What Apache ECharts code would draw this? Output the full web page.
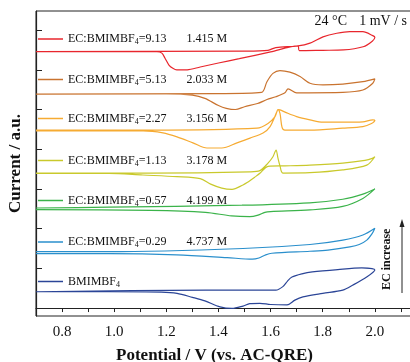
<!DOCTYPE html>
<html>
<head>
<meta charset="utf-8">
</head>
<body style="margin:0">
<div id="container" style="width:410px;height:362px"></div>
<script src="https://cdn.jsdelivr.net/npm/echarts@6/dist/echarts.min.js"></script>
<script>
// stacked cyclic voltammograms, [potential V, current a.u.] with the offsets already in
var cv913 = [[0.70,6.456],[1.50,6.47],[1.59,6.49],[1.62,6.56],[1.705,6.60],[1.751,6.67],[1.801,6.83],[1.854,6.92],[1.904,6.96],[1.954,6.96],[1.992,6.86],[2.0,6.82],
  [1.99,6.72],[1.955,6.58],[1.88,6.50],[1.80,6.49],[1.71,6.48],[1.705,6.60],[1.60,6.45],[1.48,6.28],[1.40,6.17],[1.33,6.07],[1.28,6.00],[1.24,6.00],[1.225,6.04],[1.21,6.12],[1.195,6.29],[1.183,6.42],[1.164,6.456],[0.70,6.456]];
var cv513 = [[0.70,5.385],[1.40,5.40],[1.565,5.43],[1.586,5.70],[1.609,5.91],[1.636,5.98],[1.674,5.94],[1.713,5.83],[1.751,5.66],[1.801,5.62],[1.877,5.64],[1.954,5.70],[2.0,5.77],
  [1.992,5.66],[1.954,5.49],[1.877,5.43],[1.72,5.42],[1.70,5.42],[1.667,5.52],[1.655,5.42],[1.62,5.32],[1.586,5.25],[1.55,5.15],[1.50,5.07],[1.465,5.00],[1.43,5.03],[1.40,5.10],[1.348,5.28],[1.30,5.36],[1.20,5.39],[0.70,5.39]];
var cv227 = [[0.70,4.48],[1.14,4.48],[1.548,4.53],[1.59,4.65],[1.617,4.82],[1.628,5.00],[1.636,4.90],[1.644,4.55],[1.655,4.48],[1.751,4.48],[1.877,4.53],[1.954,4.57],[1.985,4.64],[2.0,4.73],
  [1.992,4.74],[1.954,4.69],[1.877,4.68],[1.801,4.68],[1.751,4.74],[1.70,4.82],[1.66,4.92],[1.636,4.99],[1.628,5.00],[1.624,4.94],[1.598,4.57],[1.571,4.41],[1.521,4.28],[1.471,4.16],[1.413,4.03],[1.356,4.03],[1.302,4.16],[1.241,4.31],[1.187,4.41],[1.111,4.46],[0.70,4.46]];
var cv113 = [[0.70,3.40],[1.14,3.40],[1.52,3.43],[1.559,3.46],[1.59,3.65],[1.609,3.81],[1.621,3.98],[1.628,3.78],[1.636,3.58],[1.647,3.40],[1.751,3.41],[1.877,3.48],[1.969,3.60],[2.0,3.81],
  [1.99,3.77],[1.962,3.72],[1.877,3.65],[1.751,3.60],[1.655,3.58],[1.59,3.57],[1.578,3.52],[1.56,3.40],[1.54,3.30],[1.51,3.16],[1.494,3.10],[1.452,2.99],[1.413,3.02],[1.37,3.12],[1.33,3.26],[1.24,3.31],[1.11,3.35],[0.98,3.39],[0.70,3.39]];
var cv057 = [[0.70,2.52],[0.98,2.54],[1.49,2.59],[1.75,2.65],[1.877,2.74],[1.954,2.87],[2.0,3.00],
  [1.954,2.76],[1.877,2.56],[1.751,2.47],[1.60,2.43],[1.578,2.41],[1.552,2.34],[1.52,2.30],[1.45,2.32],[1.35,2.41],[1.14,2.46],[0.70,2.48]];
var cv029 = [[0.70,1.42],[0.98,1.42],[1.494,1.50],[1.751,1.60],[1.877,1.71],[1.954,1.84],[2.0,2.01],
  [1.99,1.88],[1.969,1.71],[1.94,1.60],[1.904,1.54],[1.82,1.46],[1.751,1.43],[1.605,1.38],[1.578,1.33],[1.555,1.26],[1.53,1.23],[1.433,1.27],[1.24,1.34],[0.98,1.37],[0.70,1.37]];
var cvNeat = [[0.70,0.41],[1.35,0.45],[1.62,0.45],[1.647,0.54],[1.665,0.68],[1.682,0.78],[1.72,0.86],[1.76,0.91],[1.858,0.97],[1.95,1.01],[2.0,0.96],
  [1.97,0.79],[1.916,0.58],[1.877,0.45],[1.80,0.37],[1.724,0.28],[1.693,0.20],[1.663,0.08],[1.60,0.09],[1.559,0.12],[1.52,0.11],[1.494,0.05],[1.452,-0.01],[1.406,0.03],[1.348,0.18],[1.30,0.27],[1.241,0.37],[1.18,0.40],[0.98,0.41],[0.70,0.41]];

var ratios = ['9.13', '5.13', '2.27', '1.13', '0.57', '0.29', ''];
var molarity = ['1.415 M', '2.033 M', '3.156 M', '3.178 M', '4.199 M', '4.737 M', ''];
var curves = [cv913, cv513, cv227, cv113, cv057, cv029, cvNeat];
var colors = ['#e8262d', '#c9732f', '#f6ab32', '#c9c92c', '#3bb34a', '#2a8fcc', '#2b4597'];
var xLabels = [0.8, 1.0, 1.2, 1.4, 1.6, 1.8, 2.0];
var xTicks = [0.7, 0.8, 0.9, 1.0, 1.1, 1.2, 1.3, 1.4, 1.5, 1.6, 1.7, 1.8, 1.9, 2.0, 2.1];
var yTicks = [0, 1, 2, 3, 4, 5, 6, 7];

var names = ratios.map(function (r) { return r ? 'EC:BMIMBF4=' + r : 'BMIMBF4'; });
var legendY = [40, 80.5, 119.5, 161.5, 201.5, 243, 282.5];
var serif = 'Liberation Serif';

var dom = document.getElementById('container');
var myChart = echarts.init(dom);

var legends = names.map(function (n, i) {
    return {
        data: [n],
        left: 38,
        top: legendY[i] - 7,
        padding: 0,
        icon: 'rect',
        itemWidth: 25,
        itemHeight: 1.5,
        selectedMode: false,
        formatter: function () {
            var s = ratios[i] ? '{a|EC:BMIMBF}{s|4}{a|=' + ratios[i] + '}{m|' + molarity[i] + '}' : '{a|BMIMBF}{s|4}';
            return s;
        },
        textStyle: {
            color: '#111',
            fontFamily: serif,
            fontSize: 12,
            rich: {
                a: { fontFamily: serif, fontSize: 12, lineHeight: 14, color: '#111' },
                s: { fontFamily: serif, fontSize: 8, lineHeight: 8, verticalAlign: 'bottom', color: '#111' },
                m: { fontFamily: serif, fontSize: 12, lineHeight: 14, color: '#111', padding: [0, 0, 0, 20] }
            }
        }
    };
});

var option = {
    animation: false,
    legend: legends,
    grid: { left: 36, top: 11, width: 391, height: 305, outerBoundsMode: 'none', show: true, borderColor: '#222', borderWidth: 1 },
    xAxis: {
        type: 'value',
        min: 0.7,
        max: 2.2,
        axisLine: { lineStyle: { color: '#222', width: 1.2 } },
        axisTick: { customValues: xTicks, length: 4, lineStyle: { color: '#222' } },
        axisLabel: {
            customValues: xLabels, margin: 9, color: '#111', fontFamily: serif, fontSize: 15,
            formatter: function (v) { return v.toFixed(1); }
        },
        splitLine: { show: false },
        name: 'Potential / V (vs. AC-QRE)',
        nameLocation: 'middle',
        nameGap: 31,
        nameTextStyle: { fontFamily: serif, fontSize: 17, fontWeight: 'bold', color: '#111', padding: [0, 34, 0, 0] }
    },
    yAxis: {
        type: 'value',
        min: -0.2,
        max: 7.48,
        axisLine: { show: true, lineStyle: { color: '#222', width: 1.2 } },
        axisTick: { show: true, inside: true, length: 6, customValues: yTicks, lineStyle: { color: '#222' } },
        axisLabel: { show: false },
        splitLine: { show: false },
        name: 'Current / a.u.',
        nameLocation: 'middle',
        nameGap: 12,
        nameTextStyle: { fontFamily: serif, fontSize: 17, fontWeight: 'bold', color: '#111' }
    },
    graphic: [
        { type: 'text', right: 3, top: 14, style: { text: '1 mV / s', font: '14px "Liberation Serif"', fill: '#111' } },
        { type: 'text', right: 63, top: 14, style: { text: '24 °C', font: '14px "Liberation Serif"', fill: '#111' } },
        { type: 'text', x: 381, y: 290, rotation: Math.PI / 2, style: { text: 'EC increase', font: 'bold 12px "Liberation Serif"', fill: '#111' } },
        { type: 'line', shape: { x1: 402, y1: 293, x2: 402, y2: 226 }, style: { stroke: '#222', lineWidth: 1 } },
        { type: 'polygon', shape: { points: [[402, 219], [399.5, 227], [404.5, 227]] }, style: { fill: '#222' } }
    ],
    series: names.map(function (n, i) {
        return {
            name: n,
            type: 'line',
            data: curves[i],
            symbol: 'none',
            showSymbol: false,
            smooth: 0.3,
            lineStyle: { width: 1.2, color: colors[i] },
            itemStyle: { color: colors[i] }
        };
    })
};

myChart.setOption(option);
</script>
</body>
</html>
